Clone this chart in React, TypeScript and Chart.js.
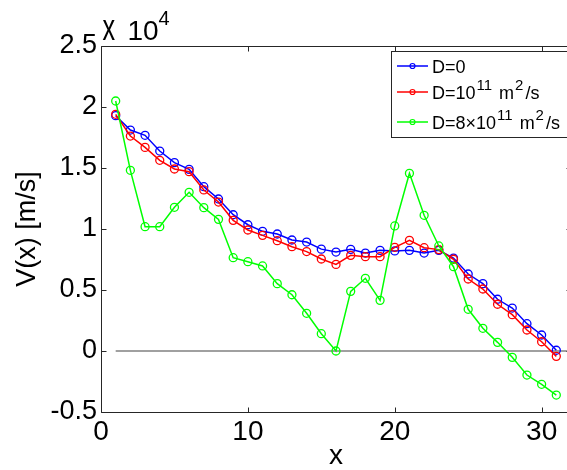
import React, { useEffect, useRef } from 'react';
import { Chart, registerables } from 'chart.js';

Chart.register(...registerables);

// ---- data ----
const xValues = [1, 2, 3, 4, 5, 6, 7, 8, 9, 10, 11, 12, 13, 14, 15, 16, 17, 18, 19, 20, 21, 22, 23, 24, 25, 26, 27, 28, 29, 30, 31];
const vD0 = [19290, 18110, 17680, 16390, 15440, 14890, 13470, 12460, 11170, 10350, 9810, 9590, 9100, 8930, 8350, 8110, 8330, 8030, 8250, 8200, 8250, 8030, 8250, 7620, 6310, 5520, 4240, 3520, 2240, 1310, 60];
const vD1e11 = [19400, 17620, 16690, 15630, 14920, 14700, 13200, 12210, 10710, 9920, 9480, 9040, 8550, 8150, 7540, 7100, 7840, 7730, 7730, 8500, 9070, 8470, 8310, 7520, 5900, 5080, 3830, 2980, 1720, 760, -440];
const vD8e11 = [20490, 14810, 10190, 10190, 11780, 13010, 11750, 10790, 7650, 7320, 6970, 5520, 4610, 3090, 1420, 0, 4890, 5960, 4150, 10250, 14560, 11120, 8610, 6910, 3420, 1860, 710, -520, -1970, -2730, -3610];
const zeroLineX = [1, 32];
const zeroLineY = [0, 0];
const yTickValues = [-5000, 0, 5000, 10000, 15000, 20000, 25000];
const xTickValues = [0, 10, 20, 30];
const legendLabels = ['D=0', 'D=10^11 m^2/s', 'D=8×10^11 m^2/s'];

const FONT = '"Liberation Sans", Arial, sans-serif';

type Part = { t: string; sup?: boolean };

function parseLabel(label: string): Part[] {
  const parts: Part[] = [];
  const re = /\^(\d+)/g;
  let last = 0;
  let m: RegExpExecArray | null;
  while ((m = re.exec(label))) {
    if (m.index > last) parts.push({ t: label.slice(last, m.index) });
    parts.push({ t: m[1], sup: true });
    last = m.index + m[0].length;
  }
  if (last < label.length) parts.push({ t: label.slice(last) });
  return parts;
}

function drawRich(ctx: CanvasRenderingContext2D, parts: Part[], x: number, y: number, size: number, supSize: number, rise: number) {
  let cx = x;
  ctx.textBaseline = 'alphabetic';
  ctx.textAlign = 'left';
  for (const p of parts) {
    ctx.font = `${p.sup ? supSize : size}px ${FONT}`;
    if (p.sup) cx += 1;
    ctx.fillText(p.t, cx, p.sup ? y - rise : y);
    cx += ctx.measureText(p.t).width + (p.sup ? 2 : 0);
  }
}

const overlayPlugin = {
  id: 'overlay',
  afterDraw(chart: any) {
    const { ctx, chartArea: ca, scales } = chart;
    const xs = scales.x;
    const ys = scales.y;
    const L = Math.round(ca.left) + 0.5;
    const R = Math.round(ca.right) + 0.5;
    const T = Math.round(ca.top) + 0.5;
    const B = Math.round(ca.bottom) + 0.5;
    ctx.save();
    ctx.strokeStyle = '#262626';
    ctx.lineWidth = 1;
    ctx.beginPath();
    ctx.moveTo(L, T);
    ctx.lineTo(R, T);
    ctx.lineTo(R, B);
    ctx.lineTo(L, B);
    ctx.closePath();
    ctx.stroke();
    const tl = 5;
    ctx.beginPath();
    for (const v of yTickValues) {
      const py = Math.round(ys.getPixelForValue(v)) + 0.5;
      ctx.moveTo(L, py);
      ctx.lineTo(L + tl, py);
      ctx.moveTo(R, py);
      ctx.lineTo(R - tl, py);
    }
    for (const v of xTickValues) {
      const px = Math.round(xs.getPixelForValue(v)) + 0.5;
      ctx.moveTo(px, B);
      ctx.lineTo(px, B - tl);
      ctx.moveTo(px, T);
      ctx.lineTo(px, T + tl);
    }
    ctx.stroke();

    // exponent label
    ctx.fillStyle = '#000';
    ctx.textBaseline = 'alphabetic';
    ctx.textAlign = 'left';
    ctx.save();
    ctx.translate(L + 1, 40);
    ctx.scale(0.9, 1.35);
    ctx.font = `28px ${FONT}`;
    ctx.fillText('x', 0, 0);
    ctx.restore();
    ctx.font = `28px ${FONT}`;
    ctx.fillText('10', L + 26, 40);
    ctx.font = `20px ${FONT}`;
    ctx.fillText('4', L + 57, 25);

    // legend
    const lx = 391.5;
    const ly = 51.5;
    const lw = 200;
    const lh = 86;
    ctx.fillStyle = '#fff';
    ctx.fillRect(lx, ly, lw, lh);
    ctx.strokeStyle = '#262626';
    ctx.lineWidth = 1;
    ctx.strokeRect(lx, ly, lw, lh);
    const rows = [66, 92, 122];
    const colors = ['#0000ff', '#ff0000', '#00ff00'];
    legendLabels.forEach((lab, i) => {
      const ry = rows[i];
      ctx.strokeStyle = colors[i];
      ctx.lineWidth = 1.5;
      ctx.beginPath();
      ctx.moveTo(397, ry);
      ctx.lineTo(428, ry);
      ctx.stroke();
      ctx.beginPath();
      ctx.arc(412.5, ry, 2.5, 0, Math.PI * 2);
      ctx.lineWidth = 1.2;
      ctx.stroke();
      ctx.fillStyle = '#000';
      drawRich(ctx, parseLabel(lab), 432, ry + 6.5, 18, 15, 9);
    });
    ctx.restore();
  },
};

export default function App() {
  const ref = useRef<HTMLCanvasElement | null>(null);
  useEffect(() => {
    if (!ref.current) return;
    const mk = (arr: number[]) => xValues.map((x, i) => ({ x, y: arr[i] }));
    const lineDs = (label: string, arr: number[], color: string) => ({
      label,
      data: mk(arr),
      borderColor: color,
      backgroundColor: 'rgba(0,0,0,0)',
      borderWidth: 1.5,
      pointRadius: 4,
      pointBorderWidth: 1.3,
      pointBorderColor: color,
      pointBackgroundColor: 'rgba(0,0,0,0)',
      pointStyle: 'circle',
      tension: 0,
      fill: false,
    });
    const chart = new Chart(ref.current, {
      type: 'line',
      data: {
        datasets: [
          lineDs(legendLabels[2], vD8e11, '#00ff00'),
          lineDs(legendLabels[1], vD1e11, '#ff0000'),
          lineDs(legendLabels[0], vD0, '#0000ff'),
          {
            label: 'zero',
            data: zeroLineX.map((x, i) => ({ x, y: zeroLineY[i] })),
            borderColor: '#808080',
            borderWidth: 1.5,
            pointRadius: 0,
            fill: false,
          } as any,
        ],
      },
      plugins: [overlayPlugin],
      options: {
        animation: false,
        responsive: false,
        maintainAspectRatio: false,
        layout: { padding: { left: 0, top: 46, right: 9, bottom: 0 } },
        plugins: { legend: { display: false }, tooltip: { enabled: false } },
        scales: {
          x: {
            type: 'linear',
            min: 0,
            max: 32,
            grid: { display: false, drawTicks: false, tickLength: 0 },
            border: { display: false },
            afterFit: (s: any) => { s.height = 58; },
            afterBuildTicks: (s: any) => { s.ticks = xTickValues.map((v) => ({ value: v })); },
            ticks: {
              padding: 3,
              color: '#000',
              font: { family: FONT, size: 28 },
              maxRotation: 0,
              callback: (v: any) => String(v),
            },
            title: {
              display: true,
              text: 'x',
              color: '#000',
              font: { family: FONT, size: 28, lineHeight: 1 },
              padding: { top: 0, bottom: 0 },
            },
          },
          y: {
            type: 'linear',
            min: -5000,
            max: 25000,
            grid: { display: false, drawTicks: false, tickLength: 0 },
            border: { display: false },
            afterFit: (s: any) => { s.width = 101; },
            afterBuildTicks: (s: any) => { s.ticks = yTickValues.map((v) => ({ value: v })); },
            ticks: {
              padding: 4,
              color: '#000',
              font: { family: FONT, size: 27 },
              callback: (v: any) => String(Number(v) / 10000),
            },
            title: {
              display: true,
              text: 'V(x) [m/s]',
              color: '#000',
              font: { family: FONT, size: 27, lineHeight: 1.2 },
              padding: { top: 11, bottom: 0 },
            },
          },
        },
      },
    });
    return () => chart.destroy();
  }, []);
  return (
    <div style={{ position: 'fixed', left: 0, top: 0, width: 567, height: 470, overflow: 'hidden', background: '#fff' }}>
      <canvas ref={ref} width={580} height={470} style={{ width: 580, height: 470, display: 'block' }} />
    </div>
  );
}
